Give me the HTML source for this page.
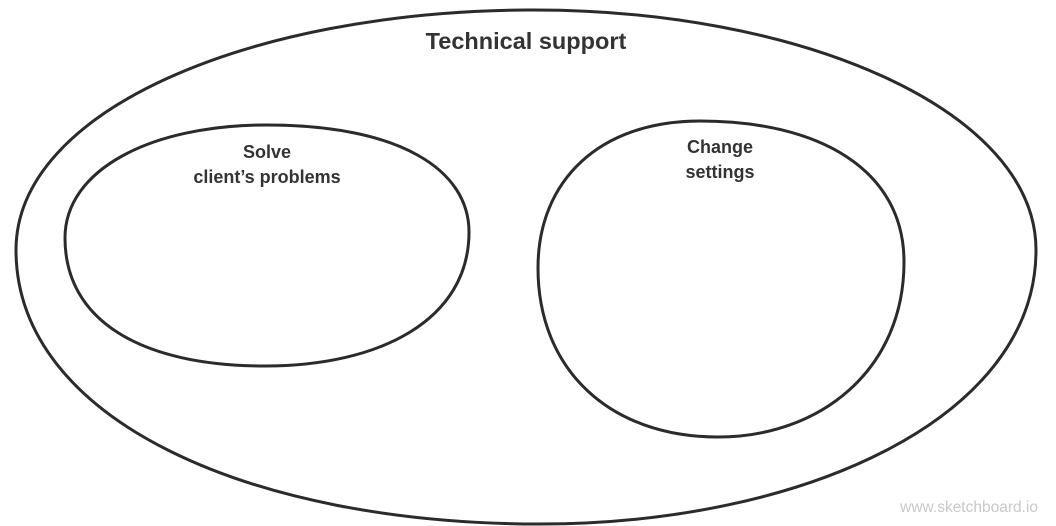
<!DOCTYPE html>
<html>
<head>
<meta charset="utf-8">
<style>
html,body{margin:0;padding:0;background:#fff;}
svg{display:block;}
text{font-family:"Liberation Sans",Arial,sans-serif;}
</style>
</head>
<body>
<svg width="1056" height="526" viewBox="0 0 1056 526" xmlns="http://www.w3.org/2000/svg">
<rect width="1056" height="526" fill="#fff"/>
<g fill="none" stroke="#2b2b2b" stroke-width="3">
<path d="M 526 10 C 800 8, 1036 110, 1036 250 C 1036 420, 800 524, 540 524 C 250 524, 16 420, 16 250 C 16 110, 250 12, 526 10 Z"/>
<path d="M 267 125 C 400 125, 469 170, 469 232 C 469 320, 380 366, 265 366 C 140 366, 65 320, 65 238 C 65 170, 150 125, 267 125 Z"/>
<path d="M 700 121 C 820 121, 904 170, 904 262 C 904 370, 820 437, 718 437 C 610 437, 538 370, 538 268 C 538 180, 600 121, 700 121 Z"/>
</g>
<g fill="#333" font-weight="bold" text-anchor="middle">
<text x="526" y="49" font-size="23.5">Technical support</text>
<text x="267" y="158" font-size="18">Solve</text>
<text x="267" y="183" font-size="18">client’s problems</text>
<text x="720" y="153" font-size="18">Change</text>
<text x="720" y="178" font-size="18">settings</text>
</g>
<text x="1038" y="512" font-size="15.5" fill="#c8c8c8" text-anchor="end">www.sketchboard.io</text>
</svg>
</body>
</html>
